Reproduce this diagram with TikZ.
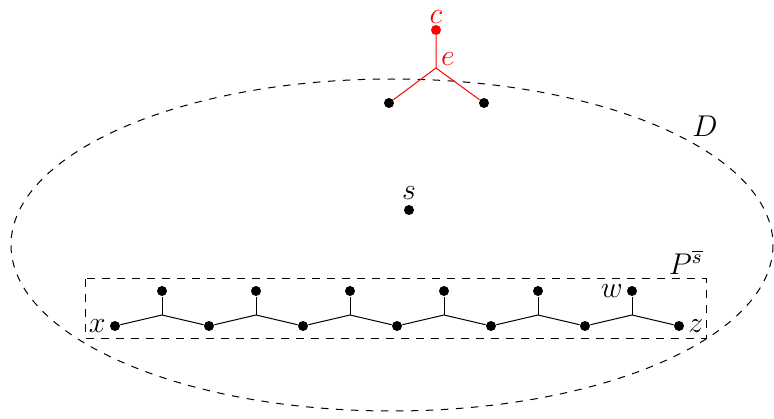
\documentclass[tikz,border=0pt]{standalone}
\usetikzlibrary{positioning}
\tikzset{>=stealth}
\begin{document}
\begin{tikzpicture}[x=0.4pt,y=-0.4pt,line width=0.4pt,font=\large]
\tikzstyle{vertex}=[circle,fill,draw=none,inner sep=0pt,minimum size=4pt]
\useasboundingbox (0,0) rectangle (774,419);

% the region D
\draw[dashed] (392,245) ellipse [x radius=381, y radius=166];
\node (D) at (705,126) {$D$};

% red part
\node[vertex,red] (c) at (436,30) {};
\node[red,inner sep=0pt] (lc) at (436,17) {$c$};
\coordinate (e) at (436,68);
\node[red] (le) at (448,59) {$e$};
\node[vertex] (a) at (389,103) {};
\node[vertex] (b) at (484,103) {};
\draw[red] (c) -- (e) -- (a);
\draw[red] (e) -- (b);

\node[vertex] (s) at (409,210) {};
\node (ls) at (409,193) {$s$};

% the path
\coordinate (bl) at (85,279);
\coordinate (tr) at (706,338);
\draw[dashed] (bl) rectangle (tr);
\node (P) at (686,262) {$P^{\overline{s}}$};

\foreach \i in {0,...,6}
  \node[vertex] (p\i) at (115+94*\i,326) {};
\foreach \i [evaluate=\i as \j using int(\i+1)] in {0,...,5} {
  \coordinate (m\i) at (162+94*\i,315);
  \node[vertex] (q\i) at (162+94*\i,291) {};
  \draw (p\i) -- (m\i) -- (p\j);
  \draw (m\i) -- (q\i);
}
\node[left=-2pt of p0] (lx) {$x$};
\node[right=-2pt of p6] (lz) {$z$};
\node[left=-2pt of q5] (lw) {$w$};
\end{tikzpicture}
\end{document}
